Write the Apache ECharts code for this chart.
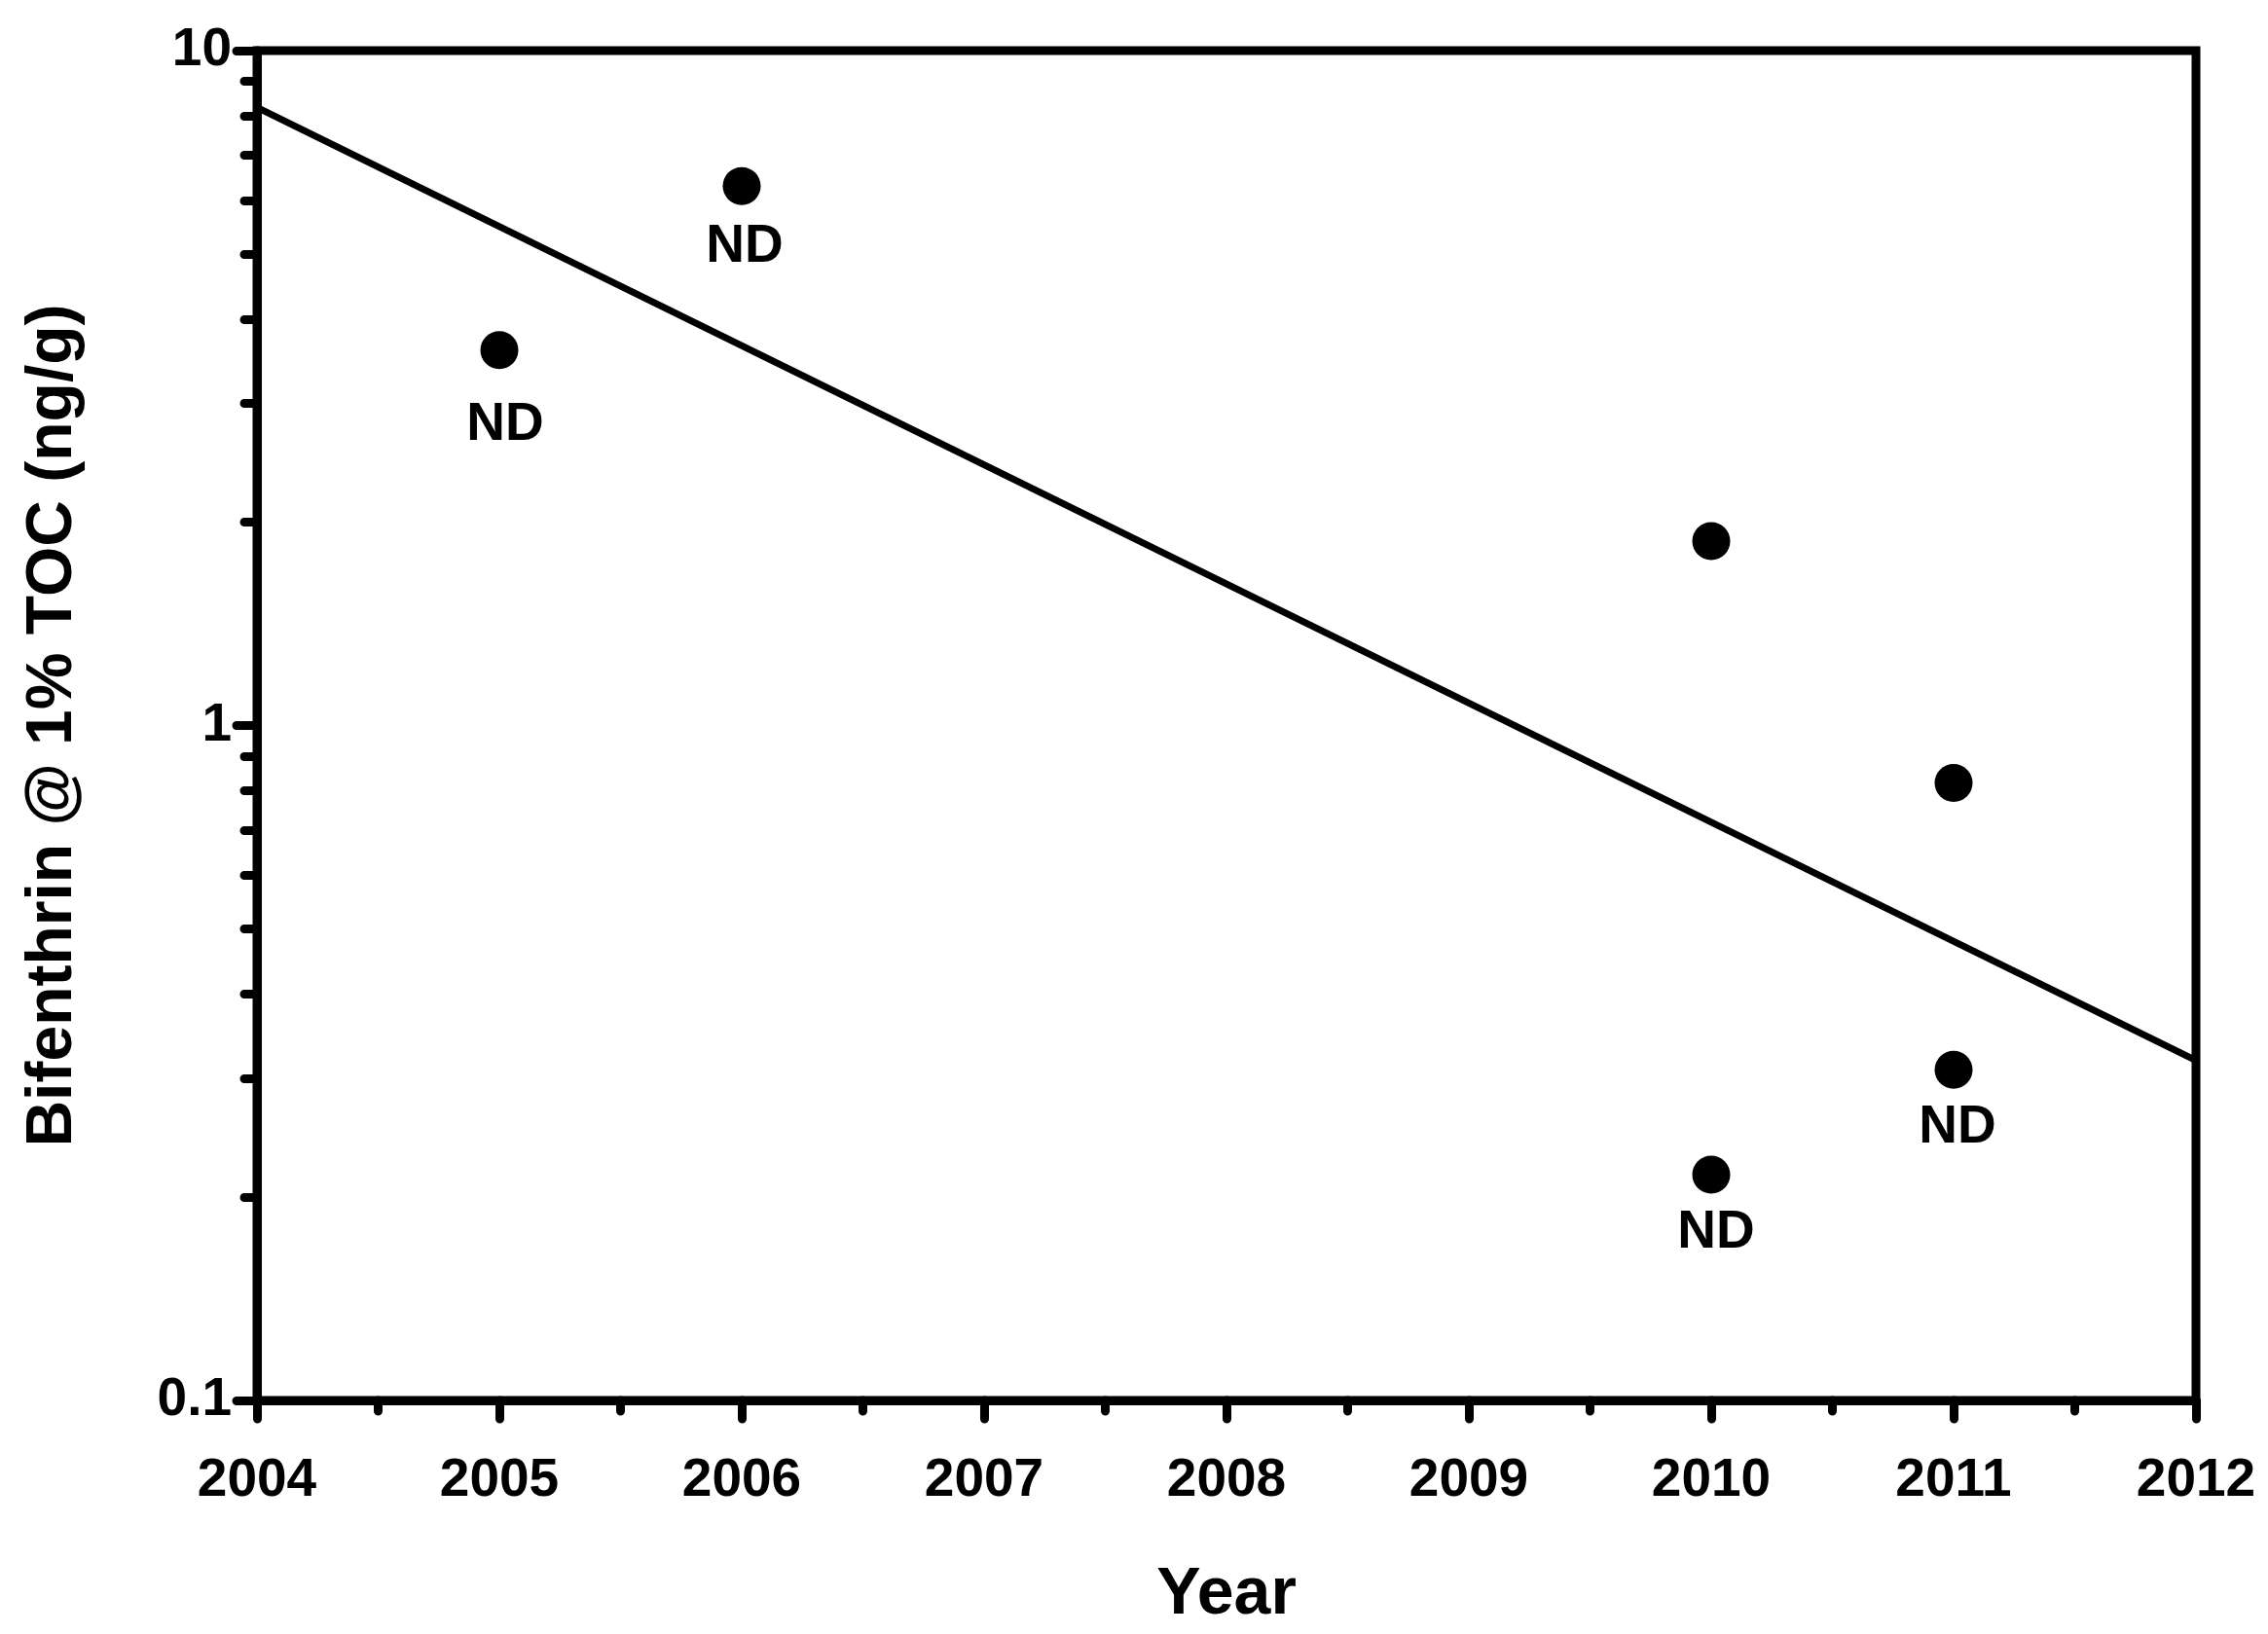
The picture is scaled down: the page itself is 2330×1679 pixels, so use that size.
<!DOCTYPE html>
<html>
<head>
<meta charset="utf-8">
<script src="https://cdn.jsdelivr.net/npm/echarts@6/dist/echarts.min.js"></script>
<style>
html,body{margin:0;padding:0;background:#fff;}
#chart{width:2330px;height:1679px;}
</style>
</head>
<body>
<div id="chart"></div>
<script>
// ---- data ----
const pointYears  = [2005, 2006, 2010, 2010, 2011, 2011];
const pointValues = [3.6, 6.3, 1.876, 0.216, 0.822, 0.309];
const pointNotes  = ['ND', 'ND', '', 'ND', '', 'ND'];
const trendYears  = [2004, 2012];
const trendValues = [8.24, 0.319];
const yMajorTicks = [0.1, 1, 10];
const yMinorTicks = [0.2, 0.3, 0.4, 0.5, 0.6, 0.7, 0.8, 0.9, 2, 3, 4, 5, 6, 7, 8, 9];
const xTitle = 'Year';
const yTitle = 'Bifenthrin @ 1% TOC (ng/g)';

// ---- presentation ----
const FONT = "'Liberation Sans', Arial, sans-serif";
const noteOffsets = [[6, 77], [3, 63], [0, 0], [5, 60], [0, 0], [4, 60]];

const chart = echarts.init(document.getElementById('chart'), null, {renderer: 'canvas'});

const scatterData = pointValues.map((v, i) => ({
  value: [pointYears[i], v],
  label: {show: pointNotes[i] !== '', formatter: pointNotes[i], offset: noteOffsets[i]}
}));
const trendData = trendYears.map((y, i) => [y, trendValues[i]]);

const fmt = v => String(parseFloat(Number(v).toPrecision(3)));

chart.setOption({
  animation: false,
  backgroundColor: '#fff',
  grid: {
    left: 264, right: 74, top: 52, bottom: 240,
    show: true, borderColor: '#000', borderWidth: 9, backgroundColor: 'transparent'
  },
  xAxis: {
    type: 'value', min: 2004, max: 2012, interval: 1,
    name: xTitle, nameLocation: 'middle', nameGap: 166,
    nameTextStyle: {fontFamily: FONT, fontWeight: 'bold', fontSize: 68, color: '#000'},
    axisLine: {show: true, onZero: false, lineStyle: {color: '#000', width: 9}},
    axisTick: {show: true, length: 19, lineStyle: {color: '#000', width: 9, cap: 'round'}},
    minorTick: {show: true, splitNumber: 2, length: 11, lineStyle: {color: '#000', width: 9, cap: 'round'}},
    splitLine: {show: false},
    axisLabel: {fontFamily: FONT, fontWeight: 'bold', fontSize: 55, color: '#000', margin: 55,
                formatter: v => String(v)}
  },
  yAxis: [{
    type: 'log', logBase: 10, min: 0.1, max: 10,
    name: yTitle, nameLocation: 'middle', nameGap: 176, nameRotate: 90,
    nameTextStyle: {fontFamily: FONT, fontWeight: 'bold', fontSize: 66, color: '#000'},
    axisLine: {show: true, lineStyle: {color: '#000', width: 9}},
    axisTick: {show: true, length: 21, customValues: yMajorTicks, lineStyle: {color: '#000', width: 9, cap: 'round'}},
    splitLine: {show: false},
    axisLabel: {fontFamily: FONT, fontWeight: 'bold', fontSize: 55, color: '#000', margin: 26,
                customValues: yMajorTicks, formatter: fmt}
  }, {
    type: 'log', logBase: 10, min: 0.1, max: 10, position: 'left',
    axisLine: {show: false},
    axisTick: {show: true, length: 13, customValues: yMinorTicks, lineStyle: {color: '#000', width: 9, cap: 'round'}},
    splitLine: {show: false},
    axisLabel: {show: false}
  }],
  series: [{
    type: 'line', data: trendData, symbol: 'none', z: 2,
    lineStyle: {color: '#000', width: 7}
  }, {
    type: 'scatter', data: scatterData, symbol: 'circle', symbolSize: 39, z: 3,
    itemStyle: {color: '#000', opacity: 1},
    label: {position: 'inside', color: '#000',
            fontFamily: FONT, fontWeight: 'bold', fontSize: 55}
  }]
});
</script>
</body>
</html>
